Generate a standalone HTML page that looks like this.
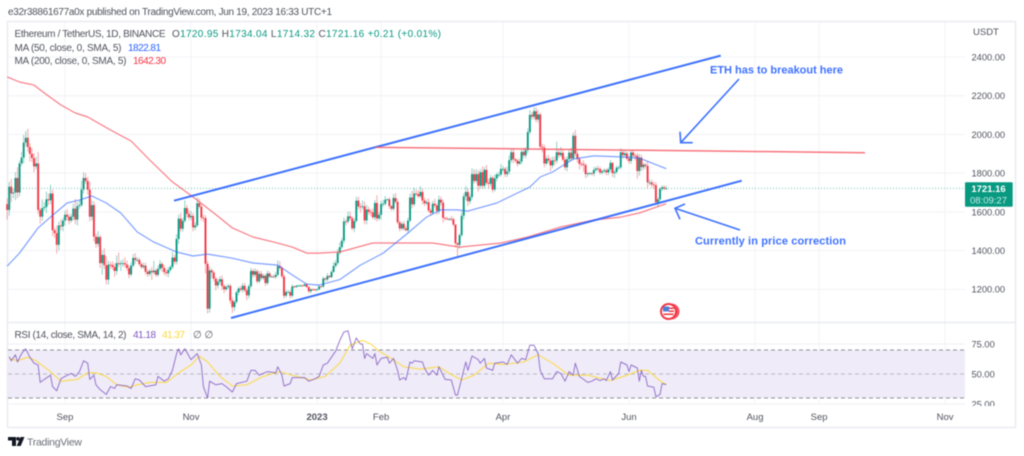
<!DOCTYPE html>
<html lang="en">
<head>
<meta charset="utf-8">
<title>ETH / USDT chart</title>
<style>
html,body{margin:0;padding:0;background:#fff;width:1024px;height:456px;overflow:hidden}
svg{display:block;font-family:"Liberation Sans",sans-serif;filter:blur(0.45px)}
text{font-family:"Liberation Sans",sans-serif}
</style>
</head>
<body>
<svg id="chart" xmlns="http://www.w3.org/2000/svg" width="1024" height="456" viewBox="0 0 1024 456">
  <defs>
    <clipPath id="rsi-axis-clip"><rect x="966" y="330" width="50" height="76"/></clipPath>
  </defs>
  <text x="8" y="15" font-size="10" fill="#50535e" textLength="324" lengthAdjust="spacing">e32r38861677a0x published on TradingView.com, Jun 19, 2023 16:33 UTC+1</text>
  <rect x="7.5" y="21.5" width="1008" height="406" fill="#fff" stroke="#e9ebf1" stroke-width="1.5"/>
  <g id="grid"></g>
  <rect x="8" y="350" width="957" height="48" fill="#efebf8"/>
  <g id="rsi-levels"></g>
  <line x1="8" y1="322.5" x2="1015" y2="322.5" stroke="#e9ebf1" stroke-width="1.5"/>
  <line x1="8" y1="188.4" x2="965" y2="188.4" stroke="#089981" stroke-width="1" stroke-dasharray="1 2" opacity="0.6"/>
  <g id="candles"></g>
  <g id="ma-lines"></g>
  <g id="rsi-lines"></g>

  <line x1="174" y1="200.7" x2="720.7" y2="55.6" stroke="#2962ff" stroke-width="2" opacity="0.9"/>
  <line x1="231" y1="318" x2="741.7" y2="180.7" stroke="#2962ff" stroke-width="2" opacity="0.9"/>
  <line x1="375" y1="147.3" x2="865" y2="152.7" stroke="#f7525f" stroke-width="1.5" opacity="0.8"/>
  <g stroke="#2962ff" stroke-width="1.6" fill="none" opacity="0.9">
    <line x1="739" y1="79" x2="680.7" y2="142.7"/>
    <polyline points="680,131.7 680.7,142.7 692.7,142.7"/>
  </g>
  <g stroke="#2962ff" stroke-width="1.6" fill="none" opacity="0.9">
    <line x1="740" y1="230" x2="675" y2="208.3"/>
    <polyline points="685,204 675,208.3 680,219.3"/>
  </g>
  <text x="710" y="73.5" font-size="11" font-weight="bold" fill="#3f72ff" textLength="133" lengthAdjust="spacing">ETH has to breakout here</text>
  <text x="695" y="244.5" font-size="11" font-weight="bold" fill="#3f72ff" textLength="151" lengthAdjust="spacing">Currently in price correction</text>

  <g>
    <circle cx="671.5" cy="311.5" r="8" fill="#f7525f"/>
    <circle cx="668.5" cy="311.5" r="8.5" fill="#f23645"/>
    <circle cx="668.5" cy="311.5" r="6.5" fill="#fff"/>
    <rect x="663" y="306.5" width="6" height="5" fill="#4a7fd8"/>
    <rect x="669" y="307.5" width="5" height="1.5" fill="#f23645"/>
    <rect x="669" y="310.5" width="5" height="1.5" fill="#f23645"/>
    <rect x="663.5" y="313.5" width="10" height="1.5" fill="#f23645"/>
  </g>

  <text x="14.5" y="37" font-size="10" fill="#50535e" textLength="151" lengthAdjust="spacing">Ethereum / TetherUS, 1D, BINANCE</text>
  <text x="172" y="37" font-size="10" fill="#50535e" textLength="269" lengthAdjust="spacing">O<tspan fill="#089981">1720.95</tspan> H<tspan fill="#089981">1734.04</tspan> L<tspan fill="#089981">1714.32</tspan> C<tspan fill="#089981">1721.16</tspan> <tspan fill="#089981">+0.21 (+0.01%)</tspan></text>
  <text x="14.5" y="51" font-size="10" fill="#50535e" textLength="107" lengthAdjust="spacing">MA (50, close, 0, SMA, 5)</text>
  <text x="128" y="51" font-size="10" fill="#2962ff" textLength="33" lengthAdjust="spacing">1822.81</text>
  <text x="14.5" y="64" font-size="10" fill="#50535e" textLength="112" lengthAdjust="spacing">MA (200, close, 0, SMA, 5)</text>
  <text x="133" y="64" font-size="10" fill="#f23645" textLength="33" lengthAdjust="spacing">1642.30</text>
  <text x="14.5" y="338" font-size="10" fill="#50535e" textLength="112" lengthAdjust="spacing">RSI (14, close, SMA, 14, 2)</text>
  <text x="133" y="338" font-size="10" fill="#7e57c2" textLength="23" lengthAdjust="spacing">41.18</text>
  <text x="162" y="338" font-size="10" fill="#fdd835" textLength="23" lengthAdjust="spacing">41.37</text>
  <text x="193" y="338" font-size="10" fill="#50535e">∅ ∅</text>

  <text x="973" y="35" font-size="9.5" fill="#50535e">USDT</text>
  <g id="price-axis"></g>
  <g id="rsi-axis" clip-path="url(#rsi-axis-clip)"></g>
  <g id="time-axis"></g>

  <rect x="965" y="182.3" width="47.7" height="24.4" rx="1" fill="#089981"/>
  <text x="988.5" y="192" font-size="9.5" font-weight="bold" fill="#fff" text-anchor="middle">1721.16</text>
  <text x="988.5" y="203.5" font-size="9.5" fill="#c8ebe5" text-anchor="middle">08:09:27</text>

  <g fill="#131722">
    <path d="M8 437h8v9h-4v-5.500h-4z"/>
    <circle cx="18" cy="438.800" r="1.800"/>
    <path d="M20.500 437h4l-3.800 9h-4z"/>
  </g>
  <text x="27" y="445.500" font-size="10.500" fill="#6a6d78" textLength="55" lengthAdjust="spacing">TradingView</text>
</svg>
<script>
const firstOpen = 1640;
const closes = [
1610,1730,1695,1700,1775,1700,1850,1880,1958,1983,1935,1900,1878,1835,1850,1610,1575,1620,1625,1665,1660,1695,1505,1490,1430,1530,1525,1555,
1585,1575,1555,1575,1617,1560,1630,1635,1715,1775,1760,1715,1575,1635,1472,1435,1470,1335,1378,1325,1250,1327,1325,1315,1295,1335,1330,1335,1335,1328,
1310,1277,1323,1362,1352,1352,1330,1315,1322,1291,1279,1295,1288,1297,1275,1306,1331,1311,1289,1283,1300,1315,1364,1343,1460,1565,1513,1554,1620,1590,1572,
1579,1520,1530,1645,1627,1570,1568,1332,1100,1298,1287,1255,1220,1240,1252,1217,1200,1212,1218,1142,1108,1135,1184,1204,1198,1218,1195,1169,1216,1295,
1275,1293,1241,1280,1258,1270,1232,1282,1265,1266,1264,1275,1320,1310,1267,1167,1186,1186,1167,1215,1212,1218,1219,1220,1218,1226,1212,1190,1200,1199,1196,
1200,1215,1214,1256,1251,1269,1263,1290,1321,1336,1388,1418,1451,1551,1550,1577,1567,1515,1553,1658,1628,1627,1629,1556,1612,1600,1597,1572,1646,1566,1585,
1641,1642,1663,1665,1630,1616,1672,1652,1546,1514,1538,1514,1505,1555,1674,1639,1695,1692,1681,1703,1659,1644,1650,1607,1595,1642,1633,1605,
1663,1648,1569,1565,1564,1564,1562,1534,1438,1430,1480,1580,1680,1703,1655,1677,1795,1760,1795,1735,1805,1735,1817,1750,1745,1776,1715,1773,1793,1793,1822,
1822,1795,1808,1867,1908,1872,1865,1849,1860,1910,1892,1919,2012,2101,2092,2120,2077,2103,1937,1932,1850,1875,1865,1840,1866,1865,1908,1893,1905,1870,
1830,1872,1906,1876,1993,1900,1873,1848,1847,1842,1795,1800,1800,1798,1817,1824,1822,1803,1810,1815,1804,1820,1853,1800,1806,1828,1830,1908,1893,1902,1875,
1863,1907,1891,1890,1811,1880,1831,1844,1838,1752,1752,1741,1738,1650,1665,1718,1727,1720.95,1721.16
];
const upperWicks = [
30,25,40,20,30,55,15,30,40,35,47,20,30,25,35,60,10,45,25,40,30,45,20,10,40,20,30,15,
20,30,15,15,25,50,20,25,45,30,25,20,40,25,20,15,30,10,25,35,45,20,15,20,20,40,55,15,20,30,
20,15,15,20,25,15,10,10,15,15,10,10,20,50,10,15,20,10,15,15,15,10,30,15,25,20,30,15,40,15,20,
25,15,15,30,25,15,15,15,15,20,10,10,10,15,15,20,10,10,10,10,15,10,10,10,15,15,15,10,10,15,
10,15,10,15,15,10,10,15,10,10,10,15,30,25,10,10,10,10,10,10,5,5,5,5,5,5,5,5,5,5,5,
5,10,5,10,5,15,5,10,20,15,20,25,15,20,10,25,25,10,15,20,20,15,30,25,25,15,15,20,15,40,15,
15,20,20,5,10,5,20,25,15,10,10,15,10,15,20,35,30,20,20,30,15,15,15,20,10,15,25,10,
20,15,15,5,10,5,15,10,5,5,10,20,15,30,20,15,30,25,25,20,15,30,15,25,20,15,10,20,10,15,25,
15,10,25,25,15,20,5,10,15,10,20,15,20,25,15,20,20,25,10,15,15,15,20,15,20,20,55,15,30,15,
15,15,15,25,17,30,15,10,10,20,10,5,5,5,15,10,15,10,10,10,10,10,15,5,10,10,10,20,15,15,10,
15,10,15,10,15,20,15,10,10,25,15,15,15,15,10,10,10,10,13
];
const lowerWicks = [
50,30,45,25,40,30,20,15,30,20,25,40,20,30,15,20,35,20,15,30,25,20,30,25,45,30,20,25,
25,20,20,10,20,25,30,15,10,20,15,25,25,20,25,20,15,25,60,20,25,25,20,15,30,20,15,35,20,15,
15,20,10,10,20,10,10,10,10,15,15,10,40,10,10,10,10,20,15,15,20,10,10,15,15,25,15,15,10,20,15,
15,20,15,10,10,15,20,50,25,20,30,15,25,15,15,20,20,10,10,15,30,20,10,15,10,15,10,25,15,10,
15,10,10,10,10,10,15,10,5,5,5,10,10,10,10,15,10,5,15,10,5,5,5,5,5,5,5,10,10,5,5,
5,5,5,5,10,10,5,5,5,10,10,10,10,15,20,10,10,10,20,10,15,30,15,20,20,15,20,10,15,15,10,
25,15,10,5,15,10,10,10,10,15,10,10,5,15,10,20,10,10,10,10,20,15,10,10,15,10,10,20,
15,15,25,10,5,10,10,10,20,65,20,10,20,20,25,15,15,15,10,30,15,15,15,10,25,15,15,10,15,15,10,
15,15,15,15,15,20,10,15,5,15,15,15,15,10,15,15,15,15,10,25,20,10,15,30,15,25,15,15,10,10,
15,20,15,15,10,15,20,30,15,35,20,15,10,10,15,10,15,10,10,10,15,15,15,20,25,10,10,10,15,10,10,
15,15,10,25,40,25,20,15,15,30,15,15,20,10,25,15,10,10,7
];
const ma200Days = [0,6,13,18,26,33,39,50,60,69,80,90,100,109,119,129,138,145,151,161,177,187,206,219,239,252,268,284,297,306,319];
const ma200Values = [2297,2271,2255,2214,2152,2111,2090,2023,1966,1868,1755,1677,1594,1517,1470,1444,1418,1387,1387,1393,1439,1439,1439,1418,1439,1470,1522,1558,1573,1594,1642];
const ma50Days = [0,6,15,21,29,35,41,48,55,63,71,82,90,97,109,119,131,138,145,151,161,171,182,194,203,210,218,223,237,245,253,258,264,274,284,297,306,319];
const ma50Values = [1320,1387,1517,1573,1646,1661,1682,1646,1594,1496,1444,1393,1372,1382,1361,1336,1325,1274,1227,1222,1250,1325,1387,1491,1573,1610,1610,1604,1646,1687,1728,1780,1806,1873,1889,1884,1878,1823];
const rsiDays = [1,2,4,5,7,9,11,13,15,16,18,21,22,24,26,28,31,33,35,37,39,40,42,43,45,48,50,52,53,58,60,62,64,67,72,73,76,78,80,82,83,84,86,89,92,94,95,97,98,101,104,106,109,111,116,118,120,122,126,130,131,133,134,137,138,144,146,149,151,153,155,159,161,163,165,167,169,171,172,173,174,177,178,179,181,184,185,187,189,190,192,193,195,196,197,201,202,204,206,208,209,212,215,217,218,221,222,223,225,228,229,231,232,235,236,240,242,244,247,249,251,253,255,257,258,260,264,266,268,270,272,274,275,277,281,283,285,287,289,290,292,293,296,297,300,301,302,305,306,307,308,309,310,313,314,316,317,319];
const rsiValues = [64.4,61,66,60,67,71,64,59,57.5,43,45.5,49,39.5,36,46,48,50.5,48,52,61,59,45.5,49,41,37,33,39.5,38,41,40,38,46,45,39.5,41,48,44,46,53,67,71,66,71,62,67,57.5,39.5,30,44,41,42,39.5,35,42,44,53,53,49,52,51,56,49,40,42,47,47,44,46,48,57.5,59,69,78,85,86,71,80,75,75,63,67,63,67,57.5,63,64,59,63,53,45,47,45,60,59,61,60,55,49,53,49,56,45.5,45,32.5,32.5,53,60,53,65,62,59,63,55,53,59,60,58,66,59,63,62,74,74,67,53,46,46,52,50.5,44,52,49,59,48,43,44,46,44.5,46,44.5,52,45,50.5,60,57.5,52,57.5,55,44,53,48,48,40,39,31,33,42,41.18];
const rsiMaDays = [1,5,10,14,21,26,34,39,43,48,53,59,63,69,77,84,89,93,97,103,109,116,124,132,140,147,154,161,166,172,176,180,185,192,200,209,214,220,226,233,240,250,257,264,272,281,292,300,306,310,317,319];
const rsiMaValues = [63,61,64,61,52,44,45.5,51,51,48,41,39,41,43,43,52,57.5,65,60,48,40,41,48,52,48,45,48,59,74,78,75,69,64,56,54,56,50.5,45,49,59,58,60,66,59,49,49,44.5,49,53,53,43,41.37];
const priceTicks = [2400,2200,2000,1800,1600,1400,1200];
const rsiTicks = [75,50,25];
const rsiLevels = [70,50,30];
const timeDays = [28,89,150,181,240,301,362,393,454];
const timeLabels = ['Sep','Nov','2023','Feb','Apr','Jun','Aug','Sep','Nov'];

const SVGNS = 'http://www.w3.org/2000/svg';
const UP = '#089981', DOWN = '#f23645';
function xAt(day){ return 65 + (day - 28) * 2.066; }
function yPrice(p){ return 57 + (2400 - p) * 0.1936; }
function yRsi(v){ return 374 - (v - 50) * 1.2; }
function make(tag, attrs, parent){
  const node = document.createElementNS(SVGNS, tag);
  for (const k in attrs) node.setAttribute(k, attrs[k]);
  parent.appendChild(node);
  return node;
}
function pathFrom(days, values, yFn){
  return days.map(function(d, i){ return xAt(d).toFixed(1) + ',' + yFn(values[i]).toFixed(1); }).join(' ');
}

const grid = document.getElementById('grid');
priceTicks.forEach(function(p){
  const el = make('line', {x1: 8, x2: 965, y1: yPrice(p), y2: yPrice(p), stroke: '#f2f3f6', 'stroke-width': 1}, grid);
  
  
});
rsiTicks.forEach(function(v){
  const el = make('line', {x1: 8, x2: 965, y1: yRsi(v), y2: yRsi(v), stroke: '#f0f1f5', 'stroke-width': 1}, grid);
  
  
});
timeDays.forEach(function(d){
  const el = make('line', {x1: xAt(d), x2: xAt(d), y1: 22, y2: 404, stroke: '#f2f3f6', 'stroke-width': 1}, grid);
  
  
});

const levelGroup = document.getElementById('rsi-levels');
rsiLevels.forEach(function(v){
  const el = make('line', {x1: 8, x2: 965, y1: yRsi(v), y2: yRsi(v), stroke: v === 50 ? '#b9b9c2' : '#8f9099', 'stroke-width': 1, 'stroke-dasharray': '4 3'}, levelGroup);
  
  
});

const candleGroup = document.getElementById('candles');
closes.forEach(function(close, i){
  const open = i === 0 ? firstOpen : closes[i - 1];
  const high = Math.max(open, close) + (upperWicks[i] || 0);
  const low = Math.min(open, close) - (lowerWicks[i] || 0);
  const color = close >= open ? UP : DOWN;
  const x = xAt(i);
  const wick = make('line', {x1: x, x2: x, y1: yPrice(high), y2: yPrice(low), stroke: color, 'stroke-width': 0.8, opacity: 0.55}, candleGroup);
  
  
  const top = yPrice(Math.max(open, close));
  const h = Math.max(0.8, yPrice(Math.min(open, close)) - top);
  const body = make('rect', {x: x - 0.95, y: top, width: 1.9, height: h, fill: color}, candleGroup);
  
  
});

const maGroup = document.getElementById('ma-lines');
const ma200Line = make('polyline', {points: pathFrom(ma200Days, ma200Values, yPrice), fill: 'none', stroke: '#f7525f', 'stroke-width': 1.2, 'stroke-linejoin': 'round', opacity: 0.75}, maGroup);


const ma50Line = make('polyline', {points: pathFrom(ma50Days, ma50Values, yPrice), fill: 'none', stroke: '#2962ff', 'stroke-width': 1.2, 'stroke-linejoin': 'round', opacity: 0.6}, maGroup);



const rsiGroup = document.getElementById('rsi-lines');
const rsiMaLine = make('polyline', {points: pathFrom(rsiMaDays, rsiMaValues, yRsi), fill: 'none', stroke: '#fdd835', 'stroke-width': 1.1, 'stroke-linejoin': 'round', opacity: 0.85}, rsiGroup);


const rsiLine = make('polyline', {points: pathFrom(rsiDays, rsiValues, yRsi), fill: 'none', stroke: '#7e57c2', 'stroke-width': 1, 'stroke-linejoin': 'round', opacity: 0.8}, rsiGroup);



const priceAxis = document.getElementById('price-axis');
priceTicks.forEach(function(p){
  const el = make('text', {x: 971.5, y: yPrice(p) + 3.4, 'font-size': 9.3, fill: '#50535e'}, priceAxis);
  
  
  el.textContent = p.toFixed(2);
});
const rsiAxis = document.getElementById('rsi-axis');
rsiTicks.forEach(function(v){
  const el = make('text', {x: 971.5, y: yRsi(v) + 3.4, 'font-size': 9.3, fill: '#50535e'}, rsiAxis);
  
  
  el.textContent = v.toFixed(2);
});
const timeAxis = document.getElementById('time-axis');
timeDays.forEach(function(d, i){
  const label = timeLabels[i];
  const attrs = {x: xAt(d), y: 420, 'font-size': 9.5, fill: '#50535e', 'text-anchor': 'middle'};
  if (label === '2023') attrs['font-weight'] = 'bold';
  const el = make('text', attrs, timeAxis);
  
  
  el.textContent = label;
});
</script>
</body>
</html>
